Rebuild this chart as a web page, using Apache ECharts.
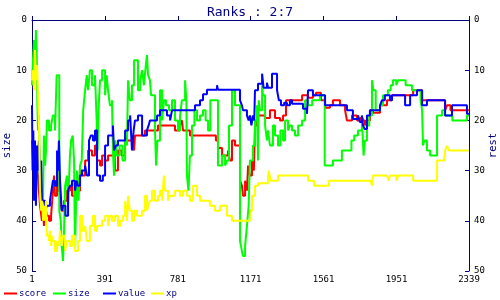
<!DOCTYPE html>
<html><head><meta charset="utf-8">
<script src="https://cdn.jsdelivr.net/npm/echarts@6/dist/echarts.min.js"></script>
<style>html,body{margin:0;padding:0;background:#fff}#c{width:500px;height:300px}</style>
</head><body><div id="c"></div>
<script>
const chartTitle = 'Ranks : 2:7';
const leftAxisName = 'size';
const rightAxisName = 'rest';
const xFirst = 1, xLast = 2339, xStep = 390;
const yMin = 0, yMax = 50, yStep = 10;
const seriesNames = ['score', 'size', 'value', 'xp'];
const seriesColors = ['#ff0000', '#00ff00', '#0000ff', '#ffff00'];

// [rank, value] at each step change
const score = [[1,24],[6,28],[12,25],[17,29],[22,26],[28,30],[33,31],[38,34],[44,37],[54,40],[60,38],[65,41],[71,37],[81,39],[92,40],[103,39],[113,34],[119,31],[124,35],[135,30],[140,34],[151,36],[161,38],[172,36],[188,34],[204,33],[215,35],[231,33],[242,34],[258,30],[269,31],[285,28],[301,26],[322,27],[338,25],[349,28],[365,29],[376,27],[392,28],[408,27],[445,30],[461,26],[480,27],[499,24],[515,24],[540,24],[547,26],[552,23],[605,22],[622,22],[675,21],[766,22],[793,21],[803,20],[809,22],[846,23],[927,23],[985,24],[996,25.5],[1018,27],[1050,26],[1060,28],[1071,24],[1087,25],[1114,32],[1124,33],[1130,35],[1141,32],[1151,34],[1157,29],[1167,31],[1178,28],[1188,30],[1194,21],[1205,20],[1210,19],[1248,19.5],[1274,18],[1290,18],[1301,19.5],[1328,20],[1344,19],[1360,16],[1446,15],[1478,15.5],[1504,15],[1520,14.5],[1547,16],[1569,17.5],[1595,17],[1611,16],[1649,17],[1676,18],[1681,19],[1686,20],[1713,19],[1740,20],[1756,19.5],[1770,20],[1782,21],[1790,20],[1809,18],[1825,18.5],[1863,17],[1900,16],[1927,15],[2040,14],[2088,16],[2211,18],[2221,17],[2240,18],[2339,18]];

const size = [[1,13],[6,8],[12,4],[17,10],[22,2],[26,6],[30,17],[33,22],[38,19],[44,35],[50,37],[55,34],[60,36],[65,23],[71,29],[76,26],[81,20],[92,22],[103,21],[113,19],[124,22],[133,11],[147,38],[155,40],[160,45],[167,48],[172,43],[178,33],[188,31],[194,37],[204,27],[210,24],[219,23],[226,28],[231,46],[236,38],[242,30],[250,36],[258,29],[267,28],[275,18],[285,14],[294,11],[301,14],[311,10],[322,13],[338,11],[347,20],[352,26],[358,17],[365,12],[376,10],[392,15],[400,11],[408,14],[418,17],[429,16],[434,26],[440,31],[447,24],[456,27],[470,25],[485,28],[499,23],[509,25],[515,12],[525,16],[536,13],[547,8],[568,14],[580,12],[590,10],[600,13],[610,9],[616,7],[622,11],[632,12],[638,15],[659,22],[665,29],[672,24],[686,14],[697,20],[707,16],[718,17],[734,18],[750,16],[766,20],[782,22],[793,19],[803,16],[820,12],[827,16],[830,31],[838,34],[846,27],[857,21],[870,18],[884,20],[900,19],[916,18],[930,20],[943,22],[955,16],[969,16],[996,29],[1018,27],[1034,29],[1044,28],[1055,21],[1071,14],[1087,17],[1114,44],[1124,46],[1130,47],[1141,45],[1151,41],[1160,37],[1167,28],[1183,25],[1194,20],[1205,17],[1210,28],[1214,16],[1221,18],[1232,13],[1237,15],[1248,21],[1258,24],[1264,22],[1274,25],[1290,21],[1301,23],[1317,25],[1330,22],[1344,24],[1355,20],[1371,22],[1381,21],[1392,22],[1408,23],[1425,21],[1446,20],[1462,16],[1478,17],[1500,16],[1542,15],[1567,29],[1611,28],[1659,26],[1710,24],[1725,23],[1745,22],[1766,20],[1775,27],[1782,24],[1793,21],[1805,19],[1820,12],[1828,14],[1840,18],[1863,17],[1879,15],[1905,14],[1920,13],[1932,12],[1950,13],[1960,12],[2000,13],[2034,14],[2061,14],[2080,16],[2088,18],[2093,25],[2100,24],[2114,26],[2131,27],[2168,19],[2195,18],[2211,19],[2250,20],[2328,19],[2339,19]];

const value = [[1,17],[4,30],[8,22],[12,36],[17,24],[22,37],[28,25],[33,30],[38,24],[44,34],[50,28],[55,37],[60,36],[71,38],[81,37],[97,36],[105,34],[113,32],[124,33],[135,26],[140,30],[145,24],[151,32],[160,38],[167,37],[180,39],[194,34],[204,33],[215,32],[231,34],[240,32],[247,33],[258,31],[269,30],[285,29],[295,31],[306,24],[316,23],[327,24],[338,22],[349,31],[365,32],[380,31],[392,25],[408,23],[434,21],[440,26],[450,25],[461,24],[488,24],[499,22],[515,20],[526,19],[536,26],[545,22],[552,20],[568,19],[590,23],[616,22],[625,21],[632,20],[670,19],[686,18],[723,19],[740,20],[750,18],[873,17],[900,16],[916,14.8],[937,13.9],[991,13],[996,13.9],[1114,16],[1124,17],[1130,18],[1151,19],[1160,20],[1167,19],[1175,21],[1183,19],[1190,20],[1194,14],[1210,12.7],[1232,10.7],[1240,13.5],[1258,12.5],[1264,13.5],[1285,10.7],[1312,14],[1322,16],[1333,17],[1350,16.5],[1365,17],[1381,16],[1392,16.7],[1419,16.7],[1451,17.7],[1472,18.7],[1478,14],[1504,15],[1550,15],[1569,17],[1686,18],[1718,19.7],[1745,19],[1755,20.3],[1766,19],[1772,21],[1780,21.7],[1793,19],[1809,18],[1863,17],[1873,16],[1889,15],[1916,16],[1927,15],[1997,17],[2024,15],[2061,14],[2088,17],[2114,16],[2211,19],[2248,17],[2328,18.7],[2339,18.7]];

const xp = [[1,12],[6,10],[12,14],[17,6],[22,12],[28,9],[33,15],[38,20],[44,34],[50,38],[55,36],[60,40],[65,37],[71,40],[76,36],[81,43],[92,44],[97,42],[103,45],[108,43],[113,44],[124,46],[135,44],[145,45],[151,42],[161,45],[167,43],[178,46],[188,44],[204,45],[215,43],[231,46],[247,44],[258,39],[269,42],[285,41],[295,44],[311,41],[327,39],[338,42],[349,41],[376,40],[392,39],[408,41],[418,39],[429,40],[445,39],[461,41],[472,40],[488,39],[499,36],[509,40],[515,35],[525,38],[536,40],[547,38],[563,39],[590,38],[605,35],[616,38],[622,37],[632,36],[643,34],[659,36],[675,35],[686,34],[697,36],[707,31],[713,34],[729,36],[739,35],[766,34],[793,35],[809,34],[830,35],[846,36],[862,33],[884,35],[900,36],[953,37],[980,38],[1007,37],[1044,39],[1071,40],[1151,40],[1167,38],[1178,35],[1194,33],[1210,32.5],[1264,31],[1268,30],[1272,31],[1280,32],[1317,31],[1478,32],[1510,33],[1590,32],[1813,32],[1820,33],[1825,31],[1900,31],[1910,32],[1916,31],[1950,32],[1960,31],[2040,32],[2157,32],[2168,28],[2205,28],[2211,26],[2221,25],[2230,26],[2339,26]];

const allData = [score, size, value, xp];

const navy = '#000080';
const mono = "'DejaVu Sans Mono', monospace";
const chart = echarts.init(document.getElementById('c'), null, {renderer: 'canvas'});

function yAxis(pos, name) {
  return {
    type: 'value', position: pos, min: yMin, max: yMax, interval: yStep, inverse: true,
    name: name, nameLocation: 'middle', nameRotate: 90, nameGap: 19, nameMoveOverlap: false,
    nameTextStyle: {color: navy, fontFamily: mono, fontSize: 10.5},
    axisLine: {show: true, lineStyle: {color: navy, width: 1}},
    axisTick: {show: true, inside: true, length: 4, lineStyle: {color: navy}},
    axisLabel: {color: '#000', fontFamily: mono, fontSize: 9, margin: 5},
    splitLine: {show: false}
  };
}

const legendLefts = [4, 53, 103, 151];

chart.setOption({
  animation: false,
  backgroundColor: '#fff',
  title: {text: chartTitle, left: 'center', top: 1,
    textStyle: {color: navy, fontFamily: mono, fontSize: 13, fontWeight: 'normal'}},
  legend: seriesNames.map((n, i) => ({
    data: [n], left: legendLefts[i], top: 289, icon: 'rect', itemWidth: 13, itemHeight: 2,
    itemGap: 0, padding: 0,
    textStyle: {color: navy, fontFamily: mono, fontSize: 9, padding: [0, 0, 0, -3]}
  })),
  grid: {left: 32, right: 31, top: 20, bottom: 29, containLabel: false, outerBoundsMode: 'none'},
  xAxis: {
    type: 'value', min: 0, max: xLast - xFirst, interval: xStep,
    axisLine: {show: true, lineStyle: {color: navy, width: 1}},
    axisTick: {show: true, inside: true, length: 4, lineStyle: {color: navy}},
    axisLabel: {color: '#000', fontFamily: mono, fontSize: 9, margin: 4,
      formatter: v => String(v + xFirst), showMaxLabel: true},
    splitLine: {show: false}
  },
  yAxis: [yAxis('left', leftAxisName), yAxis('right', rightAxisName)],
  series: seriesNames.map((n, i) => ({
    name: n, type: 'line', step: 'end', yAxisIndex: 0, showSymbol: false, symbol: 'none',
    color: seriesColors[i],
    lineStyle: {color: seriesColors[i], width: 2},
    data: allData[i].map(p => [p[0] - xFirst, p[1]])
  }))
});
</script></body></html>
